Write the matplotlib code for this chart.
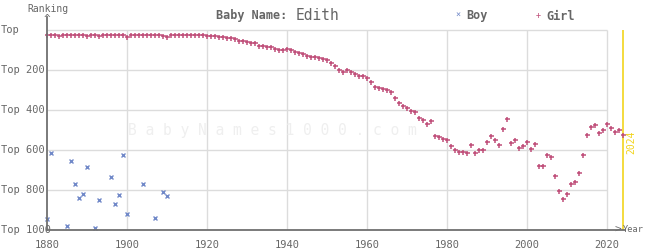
import matplotlib
matplotlib.use("Agg")
import matplotlib.pyplot as plt
from matplotlib import transforms

# girl ranking, one value per year 1880..2024
girl_years = list(range(1880, 2025))
girl_rank = [
    25, 26, 24, 28, 23, 27, 27, 23, 23, 24,
    28, 24, 27, 28, 24, 24, 23, 27, 27, 27,
    33, 27, 27, 27, 27, 27, 24, 27, 24, 28,
    33, 27, 27, 24, 27, 27, 24, 27, 24, 27,
    30, 30, 30, 35, 35, 40, 40, 47, 57, 57,
    62, 67, 67, 80, 80, 87, 87, 97, 102, 102,
    97, 102, 112, 117, 122, 132, 137, 137, 142, 147,
    152, 167, 182, 202, 212, 202, 212, 222, 232, 232,
    242, 262, 287, 292, 297, 302, 312, 342, 367, 382,
    392, 407, 412, 442, 452, 472, 457, 532, 537, 547,
    552, 582, 602, 612, 612, 617, 577, 617, 602, 602,
    562, 532, 552, 577, 497, 447, 567, 552, 592, 582,
    562, 597, 572, 682, 682, 627, 637, 732, 807, 847,
    822, 772, 762, 717, 627, 527, 487, 477, 517, 502,
    472, 492, 512, 502, 527,
]

boy_years = [1880, 1881, 1885, 1886, 1887, 1888, 1889, 1890, 1892, 1893,
             1896, 1897, 1898, 1899, 1900, 1904, 1907, 1909, 1910]
boy_rank = [947, 617, 982, 657, 772, 842, 822, 687, 992, 852,
            737, 872, 827, 627, 922, 772, 942, 812, 832]

ytick_vals = [0, 200, 400, 600, 800, 1000]
ytick_labels = ["Top", "Top 200", "Top 400", "Top 600", "Top 800", "Top 1000"]
xtick_vals = [1880, 1900, 1920, 1940, 1960, 1980, 2000, 2020]

GIRL = "#c0507a"
BOY = "#7088c8"
GRID = "#dcdcdc"
AXC = "#707070"
TXT = "#666666"
YEL = "#f2d41c"
FONT = "DejaVu Sans Mono"

W, H = 645, 250
fig = plt.figure(figsize=(W / 100, H / 100), dpi=100)
# axes spans x pixels 47..625, y pixels 17..230
ax = fig.add_axes([47 / W, (H - 230) / H, (625 - 47) / W, (230 - 17) / H])
ax.set_xlim(1880, 2024.5)
ax.set_ylim(1000, -65)

for s in ["top", "right"]:
    ax.spines[s].set_visible(False)
for s in ["left", "bottom"]:
    ax.spines[s].set_color(AXC)
    ax.spines[s].set_linewidth(1.3)
    ax.spines[s].set_zorder(5)

# grid (box ends at 2020)
ax.hlines(ytick_vals[:-1], 1880, 2020, color=GRID, lw=1, zorder=1)
ax.vlines(xtick_vals[1:], 0, 1000, color=GRID, lw=1, zorder=1)

ax.set_xticks(xtick_vals)
ax.set_xticklabels([str(v) for v in xtick_vals], fontfamily=FONT, fontsize=7.5, color=TXT)
ax.tick_params(axis="x", length=0, pad=7)
ax.set_yticks([])

tr = transforms.blended_transform_factory(fig.transFigure, ax.transData)
for v, lab in zip(ytick_vals, ytick_labels):
    ax.text(1 / W, v, lab, transform=tr, ha="left", va="center",
            fontfamily=FONT, fontsize=7.5, color=TXT)

# watermark
fig.text(272 / W, 1 - 130 / H, "B a b y N a m e s 1 0 0 0 . c o m", ha="center", va="center",
         fontfamily=FONT, fontsize=10.5, color="#efefef", zorder=0)

# current year marker
ax.vlines([2024], 0, 1000, color=YEL, lw=1.2, zorder=2)
ax.text(2024.9, 560, "2024", rotation=90, ha="left", va="center",
        fontfamily=FONT, fontsize=7, color=YEL)

ax.plot(boy_years, boy_rank, ls="none", marker="x", ms=2.6, mew=1.0, color=BOY, zorder=3, clip_on=False)
ax.plot(girl_years, girl_rank, ls="none", marker="+", ms=3.6, mew=1.1, color=GIRL, zorder=4, clip_on=False)

# axis arrows and labels
fig.text(48 / W, 1 - 9 / H, "Ranking", ha="center", va="center", fontfamily=FONT, fontsize=7, color=TXT)
fig.text(47 / W, 1 - 19 / H, "^", ha="center", va="center", fontfamily=FONT, fontsize=8, color=AXC)
fig.text(618 / W, 1 - 230 / H, ">", ha="center", va="center", fontfamily=FONT, fontsize=8, color=AXC)
fig.text(623 / W, 1 - 229 / H, "Year", ha="left", va="center", fontfamily=FONT, fontsize=6.2, color=TXT)

# title and legend
fig.text(216 / W, 1 - 16 / H, "Baby Name:", ha="left", va="center", fontfamily=FONT,
         fontsize=8.5, fontweight="bold", color=TXT)
fig.text(296 / W, 1 - 15 / H, "Edith", ha="left", va="center", fontfamily=FONT,
         fontsize=10.5, color=TXT)
fig.text(458 / W, 1 - 15 / H, "\u00d7", ha="center", va="center", fontfamily=FONT, fontsize=6, color=BOY)
fig.text(466 / W, 1 - 16 / H, "Boy", ha="left", va="center", fontfamily=FONT,
         fontsize=8.5, fontweight="bold", color=TXT)
fig.text(538 / W, 1 - 15 / H, "+", ha="center", va="center", fontfamily=FONT, fontsize=6, color=GIRL)
fig.text(546 / W, 1 - 16 / H, "Girl", ha="left", va="center", fontfamily=FONT,
         fontsize=8.5, fontweight="bold", color=TXT)

fig.savefig("out.png", dpi=100)
